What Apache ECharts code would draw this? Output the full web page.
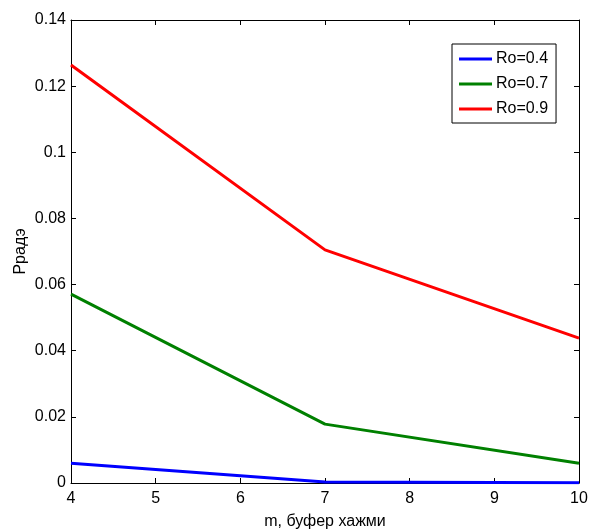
<!DOCTYPE html>
<html>
<head>
<meta charset="utf-8">
<script src="https://cdn.jsdelivr.net/npm/echarts@6/dist/echarts.min.js"></script>
<style>
  html, body { margin: 0; padding: 0; background: #fff; }
  #chart { width: 593px; height: 530px; }
</style>
</head>
<body>
<div id="chart"></div>
<script>
// Buffer size (m) and loss probability for three load levels
const bufferSizes = [4, 7, 10];
const seriesNames = ['Ro=0.4', 'Ro=0.7', 'Ro=0.9'];
const ro04 = [0.006, 0.0003, 0.0001];
const ro07 = [0.0571, 0.0178, 0.006];
const ro09 = [0.1264, 0.0705, 0.0438];
const colors = ['#0000ff', '#008000', '#ff0000'];

const font = 'Liberation Sans, Arial, sans-serif';
const toPairs = vals => bufferSizes.map((x, i) => [x, vals[i]]);

const baseAxis = {
  axisLine: { show: true, onZero: false, lineStyle: { color: '#000', width: 1 } },
  axisTick: { show: true, inside: true, length: 5, lineStyle: { color: '#000' } },
  splitLine: { show: false }
};

const chart = echarts.init(document.getElementById('chart'));
chart.setOption({
  animation: false,
  backgroundColor: '#fff',
  grid: { left: 71, right: 14, top: 20, bottom: 47, outerBoundsMode: 'none', containLabel: false },
  legend: {
    orient: 'vertical',
    left: 452, top: 44,
    width: 105,
    padding: [7, 8, 6, 7],
    itemGap: 9,
    itemWidth: 33,
    itemHeight: 3,
    icon: 'rect',
    borderColor: '#000',
    borderWidth: 1,
    backgroundColor: '#fff',
    textStyle: { fontFamily: font, fontSize: 16, color: '#000', padding: [0, 0, 0, -1] },
    data: seriesNames
  },
  xAxis: [
    Object.assign({}, baseAxis, {
      type: 'value', min: 4, max: 10, interval: 1, position: 'bottom',
      name: 'm, буфер хажми', nameLocation: 'middle', nameGap: 31,
      nameTextStyle: { fontFamily: font, fontSize: 16, color: '#000' },
      axisLabel: { fontFamily: font, fontSize: 16, color: '#000', margin: 8 }
    }),
    Object.assign({}, baseAxis, {
      type: 'value', min: 4, max: 10, interval: 1, position: 'top',
      axisLabel: { show: false }
    })
  ],
  yAxis: [
    Object.assign({}, baseAxis, {
      type: 'value', min: 0, max: 0.14, interval: 0.02, position: 'left',
      name: 'Ррадэ', nameLocation: 'middle', nameGap: 42, nameMoveOverlap: false,
      nameTextStyle: { fontFamily: font, fontSize: 16, color: '#000' },
      axisLabel: {
        fontFamily: font, fontSize: 16, color: '#000', margin: 5,
        formatter: v => (v === 0 ? '0' : String(+v.toFixed(2)))
      }
    }),
    Object.assign({}, baseAxis, {
      type: 'value', min: 0, max: 0.14, interval: 0.02, position: 'right',
      axisLabel: { show: false }
    })
  ],
  series: [ro04, ro07, ro09].map((vals, i) => ({
    name: seriesNames[i],
    type: 'line',
    data: toPairs(vals),
    showSymbol: false,
    symbol: 'none',
    lineStyle: { color: colors[i], width: 3 },
    itemStyle: { color: colors[i] },
    z: 3 + i
  }))
});
</script>
</body>
</html>
